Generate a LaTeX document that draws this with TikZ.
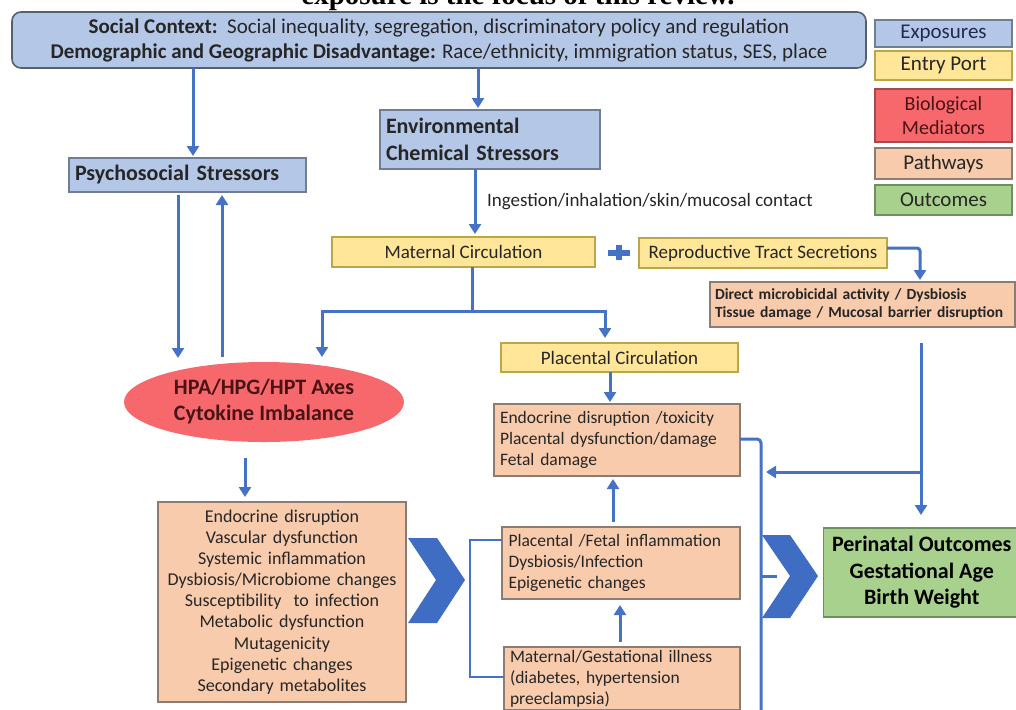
\documentclass[tikz,border=0pt]{standalone}
\usepackage{fontspec}
\setmainfont{Carlito}
\newfontfamily\titlefont{Liberation Serif}
\usetikzlibrary{arrows.meta,shapes.geometric,calc}
\definecolor{arrblue}{HTML}{4472C4}
\definecolor{chevblue}{HTML}{3F6DC4}
\definecolor{expfill}{HTML}{B4C7E7}
\definecolor{expdraw}{HTML}{6F7E94}
\definecolor{topdraw}{HTML}{55606E}
\definecolor{entfill}{HTML}{FFE699}
\definecolor{entdraw}{HTML}{BCA64A}
\definecolor{biofill}{HTML}{F6686C}
\definecolor{biodraw}{HTML}{A24A4C}
\definecolor{patfill}{HTML}{F8CBAD}
\definecolor{patdraw}{HTML}{8C7C72}
\definecolor{outfill}{HTML}{A9D18E}
\definecolor{outdraw}{HTML}{6F8F62}
\definecolor{txt}{HTML}{262626}
\definecolor{navytxt}{HTML}{1F2D4D}
\definecolor{biotxt}{HTML}{4A1416}
\begin{document}
\begin{tikzpicture}[x=1pt,y=-1pt,
  every node/.style={inner sep=0pt, outer sep=0pt},
  box/.style={draw, line width=1.3pt, inner sep=5pt, text=txt},
  expb/.style={box, fill=expfill, draw=expdraw},
  entb/.style={box, fill=entfill, draw=entdraw},
  patb/.style={box, fill=patfill, draw=patdraw},
  outb/.style={box, fill=outfill, draw=outdraw},
  biob/.style={box, fill=biofill, draw=biodraw, text=biotxt},
  legb/.style={minimum width=137pt, inner sep=2pt, align=center, font=\fontsize{21}{24}\selectfont},
  arr/.style={draw=arrblue, line width=3pt, line join=miter, -{Triangle[length=10pt,width=12pt]}},
  link/.style={draw=arrblue, line width=3pt, line join=miter},
  chev/.style={fill=chevblue},
]
\clip (0,0) rectangle (1016,709);
\useasboundingbox (0,0) rectangle (1016,709);

% title (clipped at top)
\node[font=\titlefont\bfseries\fontsize{29}{29}\selectfont, anchor=base, text=black] (title) at (518,5) {exposure is the focus of this review.};

% top box
\node[expb, draw=topdraw, rounded corners=9pt, line width=1.6pt, minimum width=854pt, minimum height=56pt, inner sep=2pt, align=center, font=\fontsize{21}{25}\selectfont] (top) at (439,40)
  {\textbf{Social Context:}\ \ Social inequality, segregation, discriminatory policy and regulation\\
   \textbf{Demographic and Geographic Disadvantage:} Race/ethnicity, immigration status, SES, place};

% legend
\node[expb, legb, minimum height=27pt, text=navytxt] (lexp) at (943.5,33.5) {Exposures};
\node[entb, legb, minimum height=29pt] (lent) at (943.5,65.5) {Entry Port};
\node[biob, legb, minimum height=53pt, font=\fontsize{20}{24}\selectfont] (lbio) at (943.5,115.5) {Biological\\Mediators};
\node[patb, legb, minimum height=31pt] (lpat) at (943.5,163.5) {Pathways};
\node[outb, legb, minimum height=30pt] (lout) at (943.5,200) {Outcomes};

% exposures
\node[expb, minimum width=237pt, minimum height=34pt, text width=225pt, inner xsep=6pt, inner ysep=2pt, align=left, font=\bfseries\fontsize{22}{26}\selectfont] (psy) at (187.5,175) {Psychosocial Stressors};
\node[expb, minimum width=220pt, minimum height=59pt, text width=208pt, inner xsep=6pt, inner ysep=2pt, align=left, font=\bfseries\fontsize{22}{27}\selectfont] (env) at (490,139.5) {Environmental\\Chemical Stressors};
\node[anchor=west, text=txt, font=\fontsize{19}{22}\selectfont] (lbl) at (487,202) {Ingestion/inhalation/skin/mucosal contact};

% entry ports
\node[entb, minimum width=263pt, minimum height=30pt, inner ysep=2pt, font=\fontsize{19}{22}\selectfont] (mat) at (463.5,252) {Maternal Circulation};
\node[entb, minimum width=248pt, minimum height=30pt, inner ysep=2pt, font=\fontsize{19}{22}\selectfont] (rep) at (763,253) {Reproductive Tract Secretions};
\node[entb, minimum width=237pt, minimum height=29pt, inner ysep=2pt, font=\fontsize{19}{22}\selectfont] (plac) at (619.5,357.5) {Placental Circulation};

% plus sign
\fill[arrblue] (608,249.5) rectangle (630,255.5);
\fill[arrblue] (616,245) rectangle (622,260);

% pathways
\node[patb, minimum width=305pt, minimum height=45pt, text width=295pt, inner xsep=5pt, inner ysep=2pt, align=left, font=\bfseries\fontsize{15.5}{18.5}\selectfont] (dir) at (862.5,304.5) {Direct microbicidal activity / Dysbiosis\\Tissue damage / Mucosal barrier disruption};
\node[patb, minimum width=246pt, minimum height=72pt, text width=234pt, inner xsep=6pt, inner ysep=2pt, align=left, font=\fontsize{17.5}{21}\selectfont] (endo) at (617,440) {Endocrine disruption /toxicity\\Placental dysfunction/damage\\Fetal damage};
\node[patb, minimum width=238pt, minimum height=72pt, text width=225pt, inner xsep=6.5pt, inner ysep=2pt, align=left, font=\fontsize{17.5}{21}\selectfont] (pfi) at (621,563) {Placental /Fetal inflammation\\Dysbiosis/Infection\\Epigenetic changes};
\node[patb, anchor=north, minimum width=236pt, text width=224pt, inner xsep=6pt, inner ysep=3pt, align=left, font=\fontsize{17.5}{21}\selectfont] (mgi) at (622,647) {Maternal/Gestational illness\\(diabetes, hypertension\\preeclampsia)};
\node[patb, minimum width=248pt, minimum height=200pt, text width=238pt, align=center, font=\fontsize{18}{21.1}\selectfont] (bl) at (282,602) {Endocrine disruption\\Vascular dysfunction\\Systemic inflammation\\Dysbiosis/Microbiome changes\\Susceptibility\ \ to infection\\Metabolic dysfunction\\Mutagenicity\\Epigenetic changes\\Secondary metabolites};

% biological mediators
\node[ellipse, fill=biofill, text=biotxt, minimum width=280pt, minimum height=80pt, align=center, font=\bfseries\fontsize{22}{26}\selectfont] (ell) at (264,402) {HPA/HPG/HPT Axes\\Cytokine Imbalance};

% outcome
\node[outb, minimum width=196.5pt, minimum height=89pt, align=center, font=\bfseries\fontsize{22}{26.5}\selectfont, text=black] (per) at (921.75,572.5) {Perinatal Outcomes\\Gestational Age\\Birth Weight};

% helper coordinates
\coordinate (c193) at (193,0);
\coordinate (c478) at (478,0);
\coordinate (c178) at (178,0);
\coordinate (c222) at (222,0);
\coordinate (c475) at (475,0);
\coordinate (c472) at (472,0);
\coordinate (split) at (472,311);
\coordinate (c322) at (322,0);
\coordinate (c605) at (605,0);
\coordinate (c610) at (610,0);
\coordinate (c613) at (613,0);
\coordinate (c620) at (620,0);
\coordinate (c245) at (245,0);
\coordinate (c920) at (920,0);
\coordinate (c921) at (921,0);
\coordinate (ybr) at (0,472);
\coordinate (brend) at (766,472);
\coordinate (brtop) at (470,540);
\coordinate (brbot) at (470,677);
\coordinate (rl) at (761,439);
\coordinate (rlb) at (761,712);
\coordinate (tickst) at (761,576);
\coordinate (tickend) at (777,576);
\coordinate (repout) at ([yshift=5pt]rep.east);

% connectors
\draw[arr, shorten >=2pt] (top.south -| c193) -- (psy.north -| c193);
\draw[arr, shorten >=2pt] (top.south -| c478) -- (env.north -| c478);
\draw[arr, shorten <=3pt, shorten >=4pt] (psy.south -| c178) -- (c178 |- ell.north);
\draw[arr, shorten <=5pt, shorten >=3pt] (c222 |- ell.north) -- (psy.south -| c222);
\draw[arr, shorten >=3pt] (env.south -| c475) -- (mat.north -| c475);
\draw[arr, shorten >=5pt] (mat.south -| c472) |- (c322 |- split) -- (c322 |- ell.north);
\draw[arr, shorten >=5pt] (mat.south -| c472) |- (c605 |- split) -- (plac.north -| c605);
\draw[arr, shorten >=2pt, rounded corners=3pt] (repout) -| (dir.north -| c920);
\draw[arr, shorten >=2pt] (plac.south -| c610) -- (endo.north -| c610);
\draw[arr, shorten <=5pt, shorten >=3pt] (pfi.north -| c613) -- (endo.south -| c613);
\draw[arr, shorten <=5pt, shorten >=6pt] (mgi.north -| c620) -- (pfi.south -| c620);
\draw[arr, shorten <=16pt, shorten >=5pt] (ell.south -| c245) -- (bl.north -| c245);
\draw[arr, shorten <=16pt, shorten >=13pt] (dir.south -| c921) -- (per.north -| c921);
\draw[arr] (c921 |- ybr) -- (brend);
\draw[link, line width=2.5pt] (pfi.west |- brtop) -- (brtop) -- (brbot) -- (mgi.west |- brbot);
\draw[link, rounded corners=4pt] (endo.east |- rl) -- (rl) -- (rlb);
\draw[link] (tickst) -- (tickend);

% chevrons
\fill[chev] (408,538) -- (437,538) -- (465,580) -- (437,623) -- (408,623) -- (436,580) -- cycle;
\fill[chev] (762,535) -- (790,535) -- (818,576) -- (790,618) -- (762,618) -- (790,576) -- cycle;
\end{tikzpicture}
\end{document}
